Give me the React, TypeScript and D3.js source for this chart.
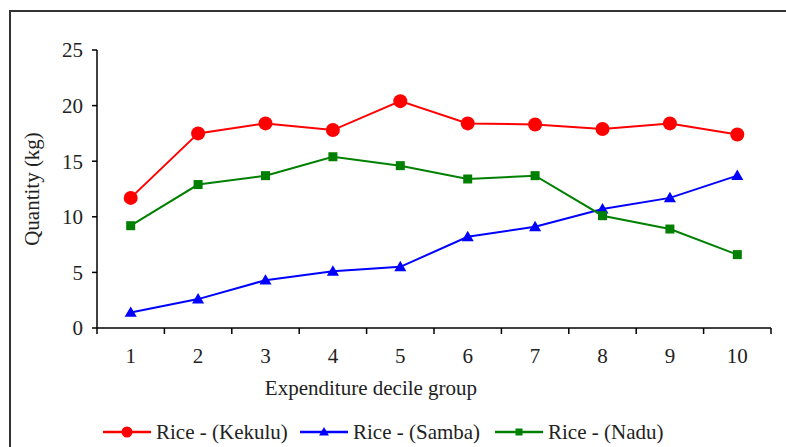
import React from "react";
import * as d3 from "d3";

const categories = ["1", "2", "3", "4", "5", "6", "7", "8", "9", "10"];
const kekulu = [11.7, 17.5, 18.4, 17.8, 20.4, 18.4, 18.3, 17.9, 18.4, 17.4];
const samba = [1.4, 2.6, 4.3, 5.1, 5.5, 8.2, 9.1, 10.7, 11.7, 13.7];
const nadu = [9.2, 12.9, 13.7, 15.4, 14.6, 13.4, 13.7, 10.1, 8.9, 6.6];
const yTicks = [0, 5, 10, 15, 20, 25];

const seriesNames = ["Rice - (Kekulu)", "Rice - (Samba)", "Rice - (Nadu)"];
const seriesColors = ["#ff0000", "#0000ff", "#008000"];
const seriesShapes = ["circle", "triangle", "square"];
const seriesData = [kekulu, samba, nadu];

const W = 786;
const H = 447;
const left = 97;
const right = 771;
const top = 50;
const bottom = 328;
const fs = 21;
const textStyle: React.CSSProperties = {
  fontFamily: "'Liberation Serif', 'Times New Roman', 'DejaVu Serif', serif",
  fontSize: fs,
  fill: "#222",
};

function Marker({ shape, x, y, color, s }: { shape: string; x: number; y: number; color: string; s: number }) {
  if (shape === "circle") return <circle cx={x} cy={y} r={s / 2} fill={color} />;
  if (shape === "triangle")
    return (
      <path
        d={`M${x},${y - s * 0.55} L${x + s * 0.55},${y + s * 0.4} L${x - s * 0.55},${y + s * 0.4} Z`}
        fill={color}
      />
    );
  return <rect x={x - s / 2} y={y - s / 2} width={s} height={s} fill={color} />;
}

export default function App() {
  const x = d3.scaleBand<string>().domain(categories).range([left, right]);
  const y = d3.scaleLinear().domain([0, 25]).range([bottom, top]);
  const cx = (i: number) => (x(categories[i]) as number) + x.bandwidth() / 2;
  const line = d3
    .line<number>()
    .x((_, i) => cx(i))
    .y((d) => y(d));
  const boundaries = categories.map((c) => x(c) as number).concat([right]);
  const sizes = [14, 11, 9];
  const legendSizes = [11, 9, 7];
  const legendX = [103, 300, 495];

  return (
    <svg width={W} height={H} style={{ position: "absolute", left: 0, top: 0 }}>
      <rect x={0} y={0} width={W} height={H} fill="#fff" />
      <path d={`M10,${H} L10,11 L${W},11`} fill="none" stroke="#333" strokeWidth={2} />
      {/* y axis */}
      <line x1={left} x2={left} y1={top} y2={bottom} stroke="#000" strokeWidth={1.5} />
      {yTicks.map((t) => (
        <g key={t}>
          <line x1={left - 5} x2={left} y1={y(t)} y2={y(t)} stroke="#000" strokeWidth={1.5} />
          <text x={left - 14} y={y(t)} dy="0.35em" textAnchor="end" style={textStyle}>
            {t}
          </text>
        </g>
      ))}
      {/* x axis */}
      <line x1={left} x2={right} y1={bottom} y2={bottom} stroke="#000" strokeWidth={1.5} />
      {boundaries.map((b, i) => (
        <line key={i} x1={b} x2={b} y1={bottom} y2={bottom + 6} stroke="#000" strokeWidth={1.5} />
      ))}
      {categories.map((c, i) => (
        <text key={c} x={cx(i)} y={356} dy="0.35em" textAnchor="middle" style={textStyle}>
          {c}
        </text>
      ))}
      <text x={371} y={388} dy="0.35em" textAnchor="middle" style={textStyle}>
        Expenditure decile group
      </text>
      <text
        transform={`translate(32,${(top + bottom) / 2}) rotate(-90)`}
        dy="0.35em"
        textAnchor="middle"
        style={textStyle}
      >
        Quantity (kg)
      </text>
      {/* series */}
      {seriesData.map((data, si) => (
        <g key={si}>
          <path d={line(data) || ""} fill="none" stroke={seriesColors[si]} strokeWidth={2} />
          {data.map((v, i) => (
            <Marker key={i} shape={seriesShapes[si]} x={cx(i)} y={y(v)} color={seriesColors[si]} s={sizes[si]} />
          ))}
        </g>
      ))}
      {/* legend */}
      {seriesNames.map((n, si) => (
        <g key={n}>
          <line x1={legendX[si]} x2={legendX[si] + 48} y1={432} y2={432} stroke={seriesColors[si]} strokeWidth={2.5} />
          <Marker shape={seriesShapes[si]} x={legendX[si] + 24} y={432} color={seriesColors[si]} s={legendSizes[si]} />
          <text x={legendX[si] + 53} y={432} dy="0.35em" style={textStyle}>
            {n}
          </text>
        </g>
      ))}
    </svg>
  );
}
